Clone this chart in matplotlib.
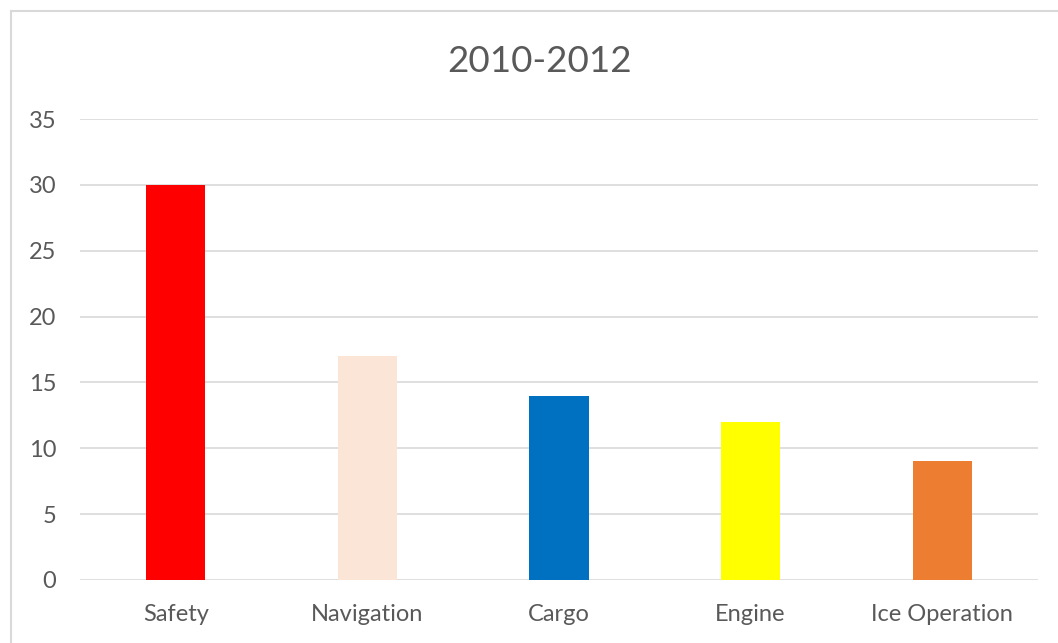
import matplotlib.pyplot as plt
from matplotlib.lines import Line2D

categories = ["Safety", "Navigation", "Cargo", "Engine", "Ice Operation"]
values = [30, 17, 14, 12, 9]
colors = ["#FF0000", "#FBE5D6", "#0070C0", "#FFFF00", "#ED7D31"]
y_ticks = [0, 5, 10, 15, 20, 25, 30, 35]

plt.rcParams['font.family'] = ['Lato', 'DejaVu Sans']
text_color = "#595959"

fig = plt.figure(figsize=(10.58, 6.43), dpi=100)
ax = fig.add_axes([80 / 1058, 1 - 580 / 643, 958 / 1058, (580 - 119) / 643])

x = range(len(categories))
ax.bar(x, values, width=0.31, color=colors, zorder=3)

ax.set_xlim(-0.5, len(categories) - 0.5)
ax.set_ylim(0, 35)
ax.set_yticks(y_ticks)
ax.set_xticks(list(x))
ax.set_xticklabels(categories)
ax.grid(axis='y', color="#D9D9D9", linewidth=1.2, zorder=0)
for s in ax.spines.values():
    s.set_visible(False)
ax.tick_params(length=0, labelsize=17, labelcolor=text_color)
ax.tick_params(axis='y', pad=17)
ax.tick_params(axis='x', pad=17)

fig.text(540 / 1058, 1 - 62 / 643, "2010-2012", ha='center', va='center',
         fontsize=26.5, color=text_color)

# outer chart border (left and top visible)
fig.add_artist(Line2D([10.5 / 1058, 10.5 / 1058], [0, 1 - 10.5 / 643],
                      transform=fig.transFigure, color="#D9D9D9", linewidth=1.5))
fig.add_artist(Line2D([10.5 / 1058, 1], [1 - 10.5 / 643, 1 - 10.5 / 643],
                      transform=fig.transFigure, color="#D9D9D9", linewidth=1.5))

fig.savefig("out.png", dpi=100)
